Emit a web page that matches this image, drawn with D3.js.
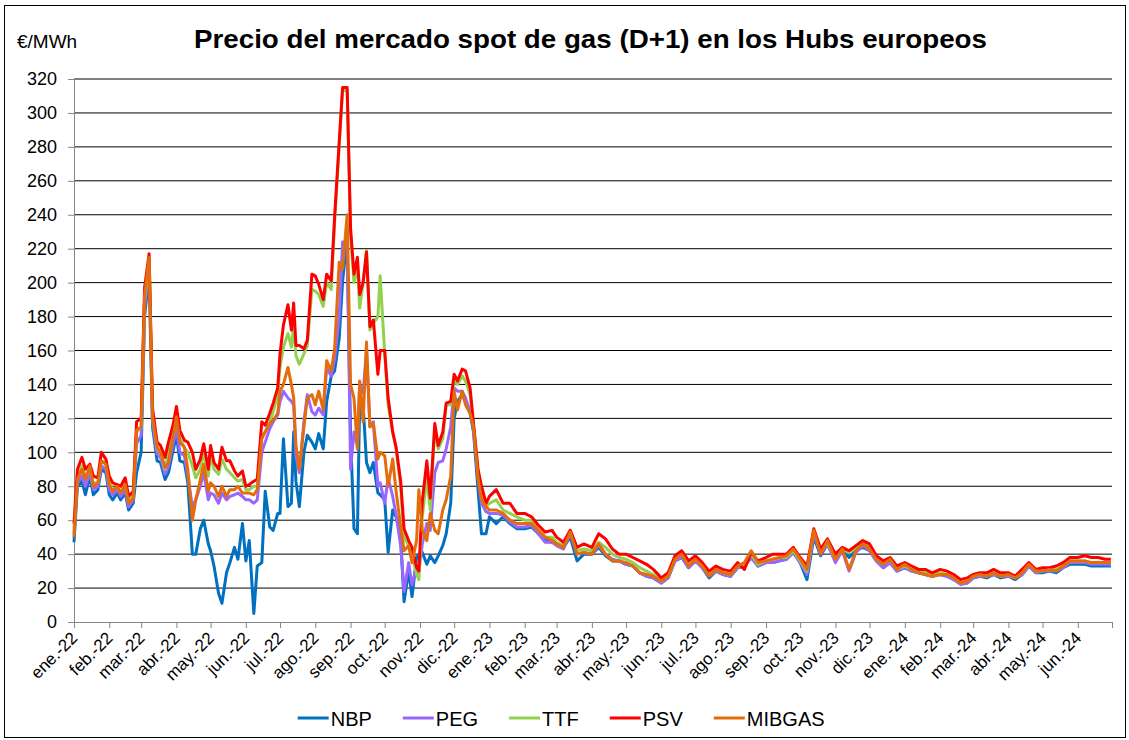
<!DOCTYPE html>
<html>
<head>
<meta charset="utf-8">
<title>Precio del mercado spot de gas (D+1)</title>
<script src="https://cdn.jsdelivr.net/npm/d3@7"></script>
<style>
  body { margin: 0; background: #fff; }
  text { font-family: Arial, "Liberation Sans", sans-serif; fill: #000; }
</style>
</head>
<body>
<div id="main"></div>
<script>
// fechas de muestreo (aprox.)
var DATES = [
  "2022-01-01","2022-01-04","2022-01-08","2022-01-11","2022-01-15","2022-01-18","2022-01-22","2022-01-25","2022-01-29",
  "2022-02-01","2022-02-04","2022-02-08","2022-02-11","2022-02-15","2022-02-18","2022-02-22","2022-02-25",
  "2022-03-01","2022-03-04","2022-03-08","2022-03-11","2022-03-15","2022-03-18","2022-03-22","2022-03-25","2022-03-29",
  "2022-04-01","2022-04-04","2022-04-08","2022-04-11","2022-04-15","2022-04-18","2022-04-22","2022-04-25","2022-04-29",
  "2022-05-01","2022-05-04","2022-05-08","2022-05-11","2022-05-15","2022-05-18","2022-05-22","2022-05-25","2022-05-29",
  "2022-06-01","2022-06-04","2022-06-08","2022-06-11","2022-06-15","2022-06-18","2022-06-22","2022-06-25","2022-06-29",
  "2022-07-01","2022-07-04","2022-07-08","2022-07-11","2022-07-13","2022-07-15","2022-07-18","2022-07-22","2022-07-25","2022-07-29",
  "2022-08-01","2022-08-04","2022-08-08","2022-08-11","2022-08-15","2022-08-18","2022-08-22","2022-08-25","2022-08-29",
  "2022-09-01","2022-09-04","2022-09-07","2022-09-09","2022-09-12","2022-09-15","2022-09-18","2022-09-21","2022-09-25","2022-09-27",
  "2022-10-01","2022-10-04","2022-10-08","2022-10-11","2022-10-15","2022-10-18","2022-10-22","2022-10-25","2022-10-29","2022-10-31",
  "2022-11-03","2022-11-07","2022-11-10","2022-11-14","2022-11-17","2022-11-21","2022-11-24","2022-11-28",
  "2022-12-01","2022-12-04","2022-12-08","2022-12-11","2022-12-15","2022-12-18","2022-12-22","2022-12-25","2022-12-29",
  "2023-01-01","2023-01-07","2023-01-13","2023-01-19","2023-01-25",
  "2023-02-01","2023-02-07","2023-02-13","2023-02-19","2023-02-25",
  "2023-03-01","2023-03-07","2023-03-13","2023-03-19","2023-03-25",
  "2023-04-01","2023-04-07","2023-04-13","2023-04-19","2023-04-25",
  "2023-05-01","2023-05-07","2023-05-13","2023-05-19","2023-05-25",
  "2023-06-01","2023-06-07","2023-06-13","2023-06-19","2023-06-25",
  "2023-07-01","2023-07-07","2023-07-13","2023-07-19","2023-07-25",
  "2023-08-01","2023-08-07","2023-08-13","2023-08-19","2023-08-25",
  "2023-09-01","2023-09-07","2023-09-13","2023-09-19","2023-09-25",
  "2023-10-01","2023-10-07","2023-10-13","2023-10-19","2023-10-25",
  "2023-11-01","2023-11-07","2023-11-13","2023-11-19","2023-11-25",
  "2023-12-01","2023-12-07","2023-12-13","2023-12-19","2023-12-25",
  "2024-01-01","2024-01-07","2024-01-13","2024-01-19","2024-01-25",
  "2024-02-01","2024-02-07","2024-02-13","2024-02-19","2024-02-25",
  "2024-03-01","2024-03-07","2024-03-13","2024-03-19","2024-03-25",
  "2024-04-01","2024-04-07","2024-04-13","2024-04-19","2024-04-25",
  "2024-05-01","2024-05-07","2024-05-13","2024-05-19","2024-05-25",
  "2024-06-01","2024-06-07","2024-06-13","2024-06-19","2024-06-25","2024-06-30"
];

// EUR/MWh
var NBP = [
  47,80,83,75,86,75,78,90,88,
  75,72,76,72,76,66,70,88,
  100,180,205,115,95,94,84,88,101,
  110,95,94,82,40,40,55,60,46,
  42,33,17,11,29,35,44,37,58,
  36,48,5,33,35,77,56,54,64,
  64,108,68,70,112,83,68,100,110,106,
  102,111,102,130,145,148,167,201,226,
  110,55,52,130,128,94,88,94,76,75,
  72,41,66,62,50,12,30,15,38,40,
  41,34,39,35,39,45,52,70,
  120,130,134,130,123,112,78,52,52,
  62,58,62,58,55, 55,56,52,48,47, 46,44,50,36,40, 40,44,39,36,36,
  34,33,29,27,26, 23,26,36,38,32, 36,32,26,30,28, 27,32,33,38,33,
  35,35,36,37,41, 35,25,50,39,46, 36,42,38,42,44, 42,36,32,35,30,
  32,30,29,28,27, 28,27,25,23,23, 26,27,26,28,26, 27,25,28,33,29,
  29,30,29,32,34, 34,34,33,33,33,33
];
var PEG = [
  52,82,86,80,88,78,80,92,90,
  78,75,78,74,78,68,72,105,
  110,185,210,118,99,97,87,92,105,
  114,100,98,86,68,72,80,88,72,
  76,75,70,76,72,74,75,76,74,
  72,72,70,72,100,106,114,118,122,
  130,136,132,130,128,98,88,118,134,124,
  122,126,122,150,145,155,180,224,224,
  90,112,104,140,135,160,115,118,80,82,
  70,85,74,63,45,18,35,22,32,30,
  46,58,54,88,94,95,102,115,
  138,136,136,132,124,114,85,70,65,
  64,64,63,59,56, 56,57,52,47,47, 45,43,52,40,41, 40,45,40,37,36,
  34,33,29,27,26, 23,26,36,38,32, 36,32,27,30,28, 27,32,33,38,33,
  35,35,36,37,41, 35,28,52,40,46, 35,42,30,41,45, 42,36,32,35,30,
  32,30,29,28,27, 28,27,25,22,23, 26,27,27,28,27, 27,26,28,33,29,
  30,30,30,32,35, 35,35,34,34,34,34
];
var TTF = [
  55,86,92,86,90,82,82,95,93,
  82,78,79,77,81,71,74,112,
  115,190,213,122,102,100,90,100,110,
  120,108,103,100,92,85,90,100,86,
  98,90,87,96,90,88,85,83,84,
  78,78,80,80,110,112,118,124,134,
  150,162,170,162,175,157,152,158,163,196,
  195,193,186,200,196,236,280,314,313,
  228,200,210,185,200,219,172,176,180,204,
  158,128,112,102,80,50,45,40,28,25,
  62,85,66,114,102,108,128,128,
  142,140,145,142,134,116,88,80,68,
  70,72,66,64,62, 60,60,54,50,50, 47,45,54,42,43, 42,47,44,40,38,
  37,35,32,30,28, 24,27,37,40,34, 37,33,28,31,29, 28,33,34,40,34,
  36,37,38,38,42, 36,30,54,41,47, 37,43,41,44,47, 44,37,34,37,31,
  33,31,30,29,28, 29,28,26,23,24, 27,28,27,29,27, 28,26,29,34,30,
  30,31,31,33,36, 36,36,35,35,35,35
];
var PSV = [
  58,90,97,90,93,86,85,100,96,
  86,82,81,80,85,74,77,118,
  120,197,217,126,106,104,97,106,116,
  127,113,107,106,100,90,96,105,90,
  104,94,90,103,95,95,89,86,89,
  80,81,83,84,118,116,123,129,138,
  158,175,187,172,188,163,163,161,166,205,
  204,199,190,205,201,239,283,315,315,
  232,205,215,193,200,218,174,178,146,160,
  160,132,112,103,83,55,48,44,32,30,
  71,95,73,117,104,112,129,130,
  146,142,149,148,138,117,90,80,70,
  74,78,70,70,64, 64,62,57,53,54, 50,47,54,44,46, 44,52,49,43,40,
  40,38,36,34,31, 26,29,39,42,36, 39,35,30,33,31, 30,35,31,41,36,
  38,40,40,40,44, 38,33,55,43,49, 40,44,42,45,48, 46,39,36,38,33,
  35,33,31,31,29, 31,30,28,25,26, 28,29,29,31,29, 29,27,31,35,31,
  32,32,33,35,38, 38,39,38,38,37,37
];
var MIBGAS = [
  50,84,90,84,92,80,82,95,93,
  81,77,80,76,81,70,73,113,
  115,192,215,121,103,100,91,94,109,
  121,106,103,90,60,72,84,93,77,
  82,80,74,80,74,78,78,80,76,
  76,76,75,78,108,112,117,119,123,
  136,140,150,140,132,104,90,115,132,134,
  128,136,125,154,148,161,212,208,240,
  140,132,102,142,118,165,115,117,96,100,
  98,80,96,77,56,42,45,35,48,78,
  54,48,64,54,52,66,72,86,
  136,125,136,128,123,115,85,72,68,
  66,66,64,60,58, 58,58,54,50,48, 46,44,53,40,41, 40,46,40,36,36,
  35,33,29,28,27, 24,27,37,40,33, 37,33,27,31,29, 28,33,35,42,35,
  36,37,38,39,43, 37,31,54,40,48, 37,43,31,42,46, 43,37,34,37,31,
  34,31,29,28,27, 28,28,26,23,24, 27,28,27,29,27, 28,26,29,34,30,
  30,31,30,33,36, 36,36,35,35,35,35
];

var SERIES_NAMES = ["NBP", "PEG", "TTF", "PSV", "MIBGAS"];
var SERIES_VALUES = [NBP, PEG, TTF, PSV, MIBGAS];
var SERIES_COLORS = ["#0070C0", "#9966FF", "#92D050", "#FF0000", "#E46C0A"];

var Y_TICKS = [0, 20, 40, 60, 80, 100, 120, 140, 160, 180, 200, 220, 240, 260, 280, 300, 320];
var X_LABELS = [
  "ene.-22","feb.-22","mar.-22","abr.-22","may.-22","jun.-22","jul.-22","ago.-22","sep.-22","oct.-22","nov.-22","dic.-22",
  "ene.-23","feb.-23","mar.-23","abr.-23","may.-23","jun.-23","jul.-23","ago.-23","sep.-23","oct.-23","nov.-23","dic.-23",
  "ene.-24","feb.-24","mar.-24","abr.-24","may.-24","jun.-24"
];

var TITLE = "Precio del mercado spot de gas (D+1) en los Hubs europeos";
var UNIT = "\u20AC/MWh";

var svgWidth = 1129;
var svgHeight = 740;
var plot = { left: 74, right: 1112, top: 79, bottom: 622 };

var parseDate = d3.timeParse("%Y-%m-%d");
var dates = DATES.map(parseDate);

var svg = d3.select("#main")
  .append("svg")
  .attr("width", svgWidth)
  .attr("height", svgHeight);

svg.append("rect")
  .attr("width", svgWidth).attr("height", svgHeight)
  .attr("fill", "#fff");

// marco exterior
svg.append("rect")
  .attr("x", 4.5).attr("y", 5.5)
  .attr("width", 1121).attr("height", 732)
  .attr("fill", "none")
  .attr("stroke", "#000")
  .attr("stroke-width", 1);

var x = d3.scaleTime()
  .domain([new Date(2022, 0, 1), new Date(2024, 6, 1)])
  .range([plot.left, plot.right]);

var y = d3.scaleLinear()
  .domain([0, 320])
  .range([plot.bottom, plot.top]);

// rejilla horizontal
svg.append("g")
  .selectAll("line")
  .data(Y_TICKS.filter(function(d) { return d > 0; }))
  .enter()
  .append("line")
  .attr("x1", plot.left).attr("x2", plot.right)
  .attr("y1", function(d) { return y(d); })
  .attr("y2", function(d) { return y(d); })
  .attr("stroke", "#000")
  .attr("stroke-width", 1);

// eje Y
var yAxis = svg.append("g")
  .attr("transform", "translate(" + plot.left + ",0)")
  .call(d3.axisLeft(y).tickValues(Y_TICKS).tickSize(6).tickPadding(11).tickSizeOuter(0));
yAxis.select(".domain").attr("stroke", "#868686");
yAxis.selectAll(".tick line").attr("stroke", "#868686");
yAxis.selectAll(".tick text")
  .style("font-size", "18px")
  .attr("fill", "#000");

// eje X
var monthTicks = d3.timeMonth.range(new Date(2022, 0, 1), new Date(2024, 6, 2));
var xAxis = svg.append("g")
  .attr("transform", "translate(0," + plot.bottom + ")")
  .call(d3.axisBottom(x)
    .tickValues(monthTicks)
    .tickSize(6)
    .tickSizeOuter(0)
    .tickFormat(function(d, i) { return X_LABELS[i] || ""; }));
xAxis.select(".domain").attr("stroke", "#868686");
xAxis.selectAll(".tick line").attr("stroke", "#868686");
xAxis.selectAll(".tick text")
  .style("font-size", "17px")
  .attr("fill", "#000")
  .attr("x", 4)
  .attr("y", 17)
  .attr("dy", null)
  .attr("text-anchor", "end")
  .attr("transform", "rotate(-45 4 17)");

// series
var line = d3.line()
  .x(function(d) { return x(d.date); })
  .y(function(d) { return y(d.value); });

SERIES_VALUES.forEach(function(values, s) {
  var points = values.map(function(v, i) { return { date: dates[i], value: v }; });
  svg.append("path")
    .datum(points)
    .attr("d", line)
    .attr("fill", "none")
    .attr("stroke", SERIES_COLORS[s])
    .attr("stroke-width", 3)
    .attr("stroke-linejoin", "round");
});

// titulo y unidad
svg.append("text")
  .attr("x", 194).attr("y", 48)
  .attr("textLength", 793)
  .attr("lengthAdjust", "spacingAndGlyphs")
  .style("font-size", "25px")
  .style("font-weight", "bold")
  .text(TITLE);

svg.append("text")
  .attr("x", 17).attr("y", 48)
  .style("font-size", "19px")
  .text(UNIT);

// leyenda
var legendX = 297.7;
var legendY = 718;
SERIES_NAMES.forEach(function(name, s) {
  var g = svg.append("g").attr("transform", "translate(" + legendX + "," + legendY + ")");
  g.append("line")
    .attr("x1", 0).attr("x2", 31)
    .attr("stroke", SERIES_COLORS[s])
    .attr("stroke-width", 3);
  var t = g.append("text")
    .attr("x", 33).attr("y", 7.5)
    .style("font-size", "20px")
    .text(name);
  legendX += 33 + t.node().getComputedTextLength() + 31;
});
</script>
</body>
</html>
